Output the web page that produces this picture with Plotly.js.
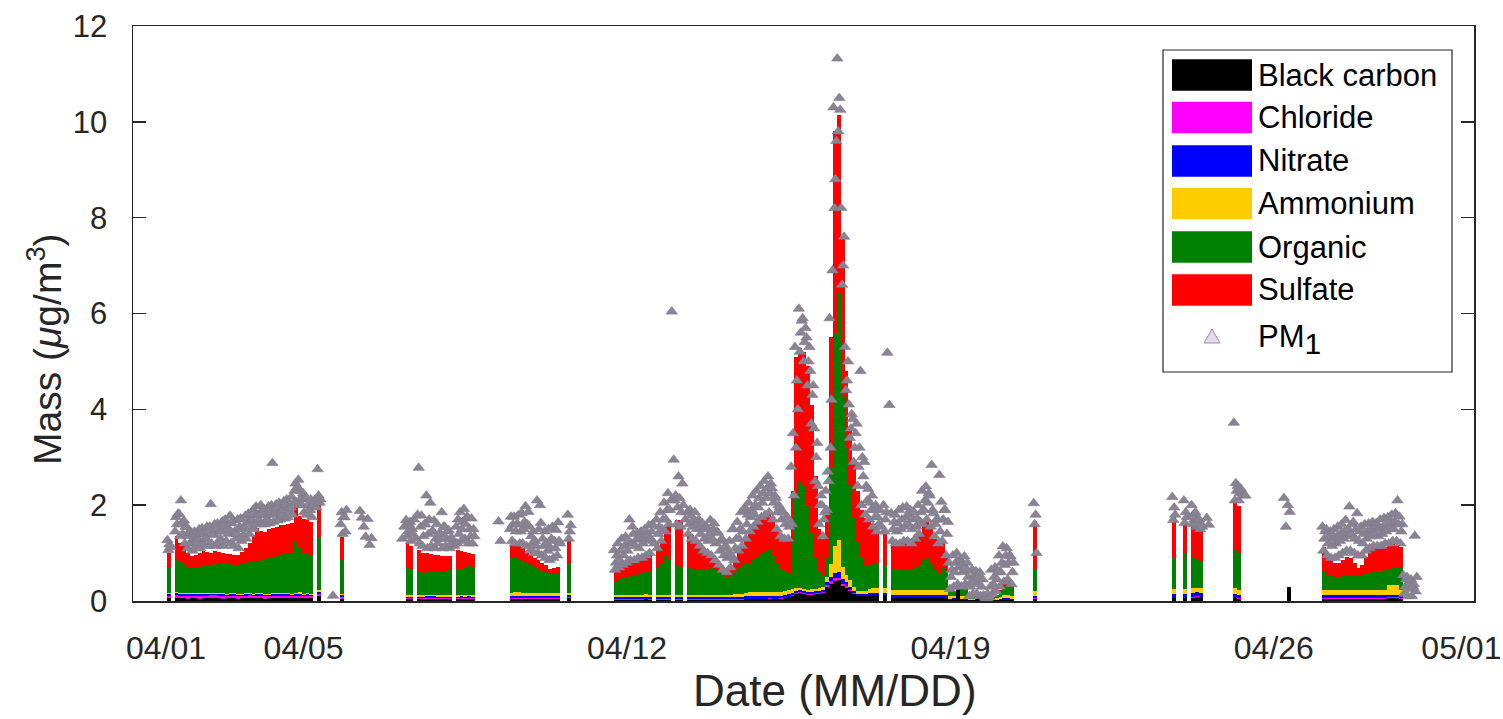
<!DOCTYPE html>
<html>
<head>
<meta charset="utf-8">
<script src="https://cdn.plot.ly/plotly-3.0.1.min.js"></script>
<style>
  html, body { margin: 0; padding: 0; background: #ffffff; }
  #chart { width: 1503px; height: 719px; }
</style>
</head>
<body>
<div id="chart"></div>
<script>
// PM1 composition, April campaign.
// Component masses are 2-hour means; PM1 (total) is read every 30 minutes.
// Sampling runs in blocks: each block starts at segStartHour (hours on the day axis)
// and holds segLength 2-hour steps.
const segStartHour = [50, 136, 172, 222, 282, 500, 572, 630, 650];
const segLength    = [41, 11, 19, 19, 104, 1, 20, 2, 25];

const blackCarbon = [
  0.06,null,0.07,0.06,0.06,0.05,0.06,0.06,0.05,0.06, 0.06,0.07,0.06,0.06,0.05,0.06,0.06,0.06,0.05,0.06,
  0.06,0.07,0.06,0.06,0.06,0.05,0.06,0.06,0.06,0.07, 0.06,0.06,0.06,0.07,0.06,0.06,0.07,0.06,null,0.10, null,
  null,null,0.05,null,null,null,null,null,null,null,null,
  null,0.04,0.04,null,0.04,0.04,0.05,0.04,0.04,0.04,0.04,0.04,0.04,null,0.04,0.05,0.04,0.04,0.04,
  null,null,null,0.04,0.04,0.04,0.04,0.05,0.04,0.04,0.04,0.04,0.04,0.04,0.04,0.04,null,null,0.06,
  0.03,0.03,0.03,0.03,0.03,0.03,0.03,0.03,0.04,0.03, null,0.03,0.03,0.03,0.03,null,0.03,0.03,null,0.03,
  0.03,0.03,0.03,0.03,0.03,0.03,0.03,0.03,0.03,0.03, 0.03,0.03,0.03,0.03,0.04,0.04,0.04,0.04,0.04,0.04,
  0.05,0.04,0.04,0.05,0.06,0.08,0.10,0.15,0.16,0.14, 0.13,0.13,0.14,0.15,0.16,0.30,0.36,0.42,0.44,0.32,
  0.28,0.20,0.14,0.10,0.10,0.10,0.12,0.12,0.12,null, 0.12,null,0.06,0.06,0.06,0.06,0.06,0.06,0.06,0.06,
  0.06,0.06,0.06,0.06,0.06,0.06,0.06,0.03,0.04,0.23, 0.03,0.03,0.02,0.02,0.05,0.01,0.01,0.01,0.02,0.02,
  0.03,0.03,0.03,0.03,
  0.05,
  0.06,null,null,0.06,null,0.07,0.09,0.08,null,null,null,null,null,null,null,null,0.06,0.05,null,null,
  null,0.30,
  0.05,0.05,0.05,0.05,0.05,0.05,0.05,0.05,0.05,0.05,0.05,0.05,0.05,0.05,0.05,0.05,0.05,0.06,0.06,0.06,0.05,null,null,null,null
];

const chloride = [
  0.05,null,0.06,0.05,0.05,0.06,0.05,0.05,0.06,0.05, 0.05,0.05,0.06,0.05,0.05,0.04,0.05,0.05,0.05,0.04,
  0.05,0.05,0.04,0.05,0.04,0.05,0.04,0.04,0.05,0.04, 0.04,0.05,0.04,0.04,0.05,0.04,0.04,0.04,null,0.05, null,
  null,null,0.03,null,null,null,null,null,null,null,null,
  null,0.02,0.02,null,0.02,0.02,0.02,0.03,0.02,0.02,0.02,0.02,0.02,null,0.02,0.02,0.02,0.02,0.02,
  null,null,null,0.02,0.02,0.02,0.02,0.02,0.02,0.02,0.02,0.02,0.02,0.02,0.02,0.02,null,null,0.02,
  0.01,0.01,0.01,0.01,0.01,0.01,0.01,0.01,0.01,0.01, null,0.01,0.01,0.01,0.01,null,0.01,0.01,null,0.01,
  0.01,0.01,0.01,0.01,0.01,0.01,0.01,0.01,0.01,0.01, 0.01,0.01,0.01,0.01,0.01,0.01,0.01,0.01,0.01,0.01,
  0.01,0.01,0.01,0.01,0.01,0.01,0.02,0.02,0.02,0.02, 0.02,0.02,0.02,0.02,0.02,0.03,0.05,0.05,0.05,0.04,
  0.03,0.03,0.02,0.01,0.01,0.01,0.01,0.01,0.01,null, 0.01,null,0.01,0.01,0.01,0.01,0.01,0.01,0.01,0.01,
  0.01,0.01,0.01,0.01,0.01,0.01,0.01,0.00,0.00,0.00, 0.00,0.00,0.00,0.00,0.00,0.00,0.00,0.00,0.00,0.00,
  0.00,0.00,0.00,0.00,
  0.01,
  0.01,null,null,0.01,null,0.01,0.01,0.01,null,null,null,null,null,null,null,null,0.01,0.01,null,null,
  null,null,
  0.02,0.02,0.02,0.02,0.02,0.02,0.02,0.02,0.02,0.02,0.02,0.02,0.02,0.02,0.02,0.02,0.02,0.02,0.02,0.02,0.02,null,null,null,null
];

const nitrate = [
  0.03,null,0.03,0.03,0.04,0.03,0.03,0.03,0.03,0.04, 0.03,0.03,0.03,0.03,0.04,0.03,0.03,0.03,0.03,0.03,
  0.04,0.03,0.03,0.03,0.04,0.03,0.03,0.04,0.03,0.03, 0.04,0.03,0.03,0.04,0.04,0.03,0.03,0.03,null,0.04, null,
  null,null,0.04,null,null,null,null,null,null,null,null,
  null,0.03,0.03,null,0.03,0.03,0.03,0.03,0.04,0.03,0.03,0.03,0.03,null,0.03,0.03,0.03,0.04,0.03,
  null,null,null,0.04,0.04,0.05,0.04,0.04,0.04,0.04,0.04,0.04,0.04,0.04,0.04,0.04,null,null,0.04,
  0.04,0.04,0.04,0.04,0.04,0.04,0.04,0.04,0.04,0.04, null,0.04,0.04,0.04,0.04,null,0.04,0.04,null,0.04,
  0.04,0.04,0.04,0.04,0.04,0.04,0.04,0.04,0.04,0.04, 0.04,0.04,0.04,0.05,0.05,0.05,0.05,0.05,0.05,0.05,
  0.05,0.05,0.05,0.05,0.05,0.05,0.05,0.04,0.04,0.04, 0.04,0.04,0.04,0.04,0.04,0.06,0.10,0.12,0.12,0.10,
  0.08,0.06,0.05,0.04,0.04,0.04,0.04,0.04,0.04,null, 0.04,null,0.05,0.05,0.05,0.05,0.05,0.05,0.05,0.05,
  0.05,0.05,0.05,0.05,0.05,0.05,0.05,0.02,0.02,0.02, 0.02,0.02,0.01,0.01,0.01,0.01,0.00,0.00,0.01,0.01,
  0.02,0.03,0.03,0.02,
  0.05,
  0.08,null,null,0.08,null,0.09,0.08,0.08,null,null,null,null,null,null,null,null,0.08,0.07,null,null,
  null,null,
  0.05,0.05,0.05,0.05,0.05,0.05,0.05,0.05,0.05,0.05,0.05,0.05,0.05,0.05,0.05,0.05,0.05,0.05,0.05,0.05,0.05,null,null,null,null
];

const ammonium = [
  0.02,null,0.02,0.02,0.02,0.02,0.02,0.02,0.02,0.02, 0.02,0.02,0.02,0.02,0.02,0.02,0.02,0.02,0.02,0.02,
  0.02,0.02,0.02,0.02,0.03,0.02,0.02,0.02,0.02,0.02, 0.02,0.03,0.02,0.02,0.03,0.02,0.02,0.02,null,0.03, null,
  null,null,0.03,null,null,null,null,null,null,null,null,
  null,0.03,0.03,null,0.03,0.03,0.03,0.03,0.03,0.03,0.03,0.03,0.04,null,0.03,0.03,0.03,0.03,0.03,
  null,null,null,0.07,0.08,0.07,0.07,0.06,0.07,0.07,0.07,0.06,0.07,0.07,0.06,0.07,null,null,0.05,
  0.05,0.05,0.05,0.05,0.05,0.05,0.05,0.05,0.05,0.05, null,0.05,0.05,0.05,0.05,null,0.05,0.05,null,0.05,
  0.05,0.05,0.05,0.05,0.05,0.05,0.05,0.05,0.05,0.05, 0.05,0.06,0.06,0.06,0.06,0.08,0.08,0.08,0.08,0.08,
  0.08,0.08,0.08,0.08,0.08,0.08,0.08,0.06,0.05,0.05, 0.05,0.06,0.06,0.07,0.08,0.12,0.27,0.55,0.66,0.26,
  0.16,0.15,0.09,0.05,0.05,0.05,0.08,0.10,0.10,null, 0.10,null,0.10,0.10,0.10,0.10,0.10,0.10,0.10,0.10,
  0.10,0.10,0.10,0.10,0.10,0.10,0.10,0.05,0.04,0.03, 0.05,0.05,0.02,0.02,0.02,0.01,0.01,0.01,0.02,0.03,
  0.04,0.07,0.07,0.05,
  0.10,
  0.10,null,null,0.10,null,0.10,0.10,0.10,null,null,null,null,null,null,null,null,0.12,0.10,null,null,
  null,null,
  0.12,0.12,0.12,0.12,0.12,0.12,0.12,0.12,0.12,0.12,0.12,0.12,0.12,0.12,0.12,0.12,0.12,0.20,0.20,0.20,0.12,null,null,null,null
];

const organic = [
  0.56,null,0.70,0.68,0.62,0.56,0.54,0.56,0.56,0.58, 0.59,0.59,0.61,0.61,0.63,0.62,0.61,0.59,0.58,0.62,
  0.63,0.64,0.66,0.68,0.70,0.70,0.74,0.76,0.79,0.81, 0.83,0.83,0.84,1.08,0.94,0.84,0.84,0.82,null,1.11, null,
  null,null,0.71,null,null,null,null,null,null,null,null,
  null,0.57,0.54,null,0.50,0.46,0.48,0.48,0.48,0.49,0.48,0.50,0.51,null,0.53,0.54,0.56,0.60,0.58,
  null,null,null,0.73,0.73,0.69,0.65,0.61,0.57,0.55,0.49,0.45,0.43,0.41,0.41,0.39,null,null,0.63,
  0.27,0.31,0.34,0.37,0.39,0.42,0.44,0.45,0.46,0.49, null,0.57,0.67,0.82,0.72,null,0.62,0.59,null,0.55,
  0.53,0.52,0.52,0.52,0.53,0.55,0.53,0.49,0.39,0.37, 0.42,0.46,0.56,0.60,0.62,0.62,0.67,0.74,0.80,0.85,
  0.87,0.77,0.62,0.46,0.40,0.36,1.05,1.93,2.21,2.15, 1.76,1.15,0.64,0.32,0.25,0.39,2.02,4.46,5.13,3.58,
  2.65,1.96,1.45,1.05,0.70,0.55,0.50,0.51,0.52,null, 0.48,null,0.43,0.43,0.42,0.43,0.44,0.43,0.48,0.53,
  0.63,0.67,0.58,0.43,0.36,0.50,0.38,0.10,0.08,0.05, 0.18,0.20,0.04,0.03,0.03,0.02,0.01,0.01,0.03,0.05,
  0.10,0.20,0.20,0.17,
  0.44,
  0.67,null,null,0.75,null,0.65,0.60,0.57,null,null,null,null,null,null,null,null,0.81,0.75,null,null,
  null,null,
  0.37,0.31,0.28,0.26,0.27,0.29,0.30,0.31,0.30,0.28,0.30,0.32,0.34,0.36,0.38,0.39,0.41,0.34,0.35,0.36,0.45,null,null,null,null
];

const sulfate = [
  0.28,null,0.48,0.37,0.35,0.28,0.23,0.24,0.28,0.29, 0.28,0.25,0.26,0.25,0.21,0.22,0.22,0.21,0.22,0.25,
  0.31,0.40,0.56,0.68,0.59,0.59,0.62,0.60,0.60,0.61, 0.59,0.61,0.63,0.81,0.66,0.73,0.70,0.67,null,0.78, null,
  null,null,0.48,null,null,null,null,null,null,null,null,
  null,0.52,0.49,null,0.44,0.42,0.40,0.38,0.36,0.35,0.34,0.31,0.29,null,0.41,0.38,0.34,0.28,0.28,
  null,null,null,0.27,0.27,0.29,0.31,0.27,0.21,0.18,0.19,0.18,0.16,0.08,0.12,0.16,null,null,0.55,
  0.22,0.22,0.23,0.28,0.28,0.29,0.31,0.32,0.35,0.38, null,0.40,0.45,0.60,0.84,null,0.94,0.97,null,0.77,
  0.72,0.65,0.50,0.41,0.34,0.27,0.14,0.10,0.10,0.08, 0.15,0.25,0.36,0.45,0.57,0.70,0.73,0.78,0.82,0.85,
  0.84,0.80,0.70,0.75,0.75,0.76,1.00,2.90,2.80,2.80, 2.90,2.70,1.70,0.90,0.75,0.90,2.70,4.20,3.75,3.30,
  1.60,1.20,1.15,1.05,1.00,0.98,0.90,0.82,0.71,null, 0.67,null,0.62,0.60,0.58,0.56,0.54,0.56,0.55,0.65,
  0.75,0.80,0.75,0.65,0.57,0.49,0.32,0.05,0.03,0.02, 0.05,0.08,0.02,0.01,0.01,0.01,0.00,0.00,0.01,0.02,
  0.04,0.08,0.11,0.08,
  1.01,
  0.84,null,null,0.63,null,0.79,0.70,0.66,null,null,null,null,null,null,null,null,0.98,1.00,null,null,
  null,null,
  0.52,0.35,0.34,0.30,0.28,0.32,0.38,0.35,0.26,0.17,0.21,0.36,0.48,0.48,0.48,0.47,0.47,0.49,0.50,0.47,0.44,null,null,null,null
];

// PM1 every 30 minutes: four readings per 2-hour step
const pm1 = [
  // 04/01 - 04/05
  1.27,1.06,1.18,1.12, null,null,null,null, 1.45,1.75,1.6,1.82, 1.82,1.35,2.1,1.6, 1.4,1.68,1.2,1.55,
  1.55,1.1,1.35,1.45, 1.2,1.42,1.05,1.3, 1.45,1.1,1.3,1.22, 1.3,1.5,1.1,1.4, 1.52,1.2,1.4,1.3,
  1.3,1.55,1.15,1.45, 1.55,2.02,1.2,1.38, 1.4,1.6,1.15,1.5, 1.62,1.2,1.45,1.3, 1.45,1.66,1.15,1.55,
  1.7,1.25,1.55,1.4, 1.5,1.78,1.2,1.62, 1.68,1.15,1.45,1.3, 1.4,1.7,1.1,1.55, 1.72,1.25,1.5,1.38,
  1.55,1.78,1.3,1.65, 1.82,1.4,1.65,1.55, 1.7,1.9,1.5,1.8, 1.97,1.6,1.8,1.7, 1.8,2.0,1.6,1.9,
  1.92,1.6,1.8,1.7, 1.7,1.97,1.62,1.85, 2.0,2.88,1.65,1.8, 1.85,2.02,1.68,1.95, 2.05,1.7,1.9,1.8,
  1.9,2.08,1.72,2.0, 2.12,1.75,1.95,1.85, 1.95,2.18,1.8,2.05, 2.3,2.45,2.05,2.38, 2.53,2.0,2.3,2.15,
  2.0,2.25,1.85,2.12, 2.15,1.8,2.0,1.9, 1.9,2.12,1.75,2.0, null,2.1,null,1.95, 2.75,2.2,2.05,2.12,
  null,null,null,null,
  // short runs after 04/05
  0.11,null,null,null, null,null,null,null, 1.6,1.85,1.4,1.75, 1.75,1.45,1.9,null, null,null,null,null,
  null,null,null,null, null,null,null,null, 1.88,null,1.74,null, 1.55,null,1.34,null, 1.71,null,1.17,null,
  1.31,null,null,null,
  // 04/07 - 04/08
  1.3,null,1.55,null, 1.69,1.35,1.45,1.6, 1.65,1.25,1.5,1.4, 1.7,null,1.3,null, 1.8,2.78,1.2,1.55,
  1.78,1.15,1.35,1.6, 1.6,2.2,1.1,1.4, 1.7,2.05,1.15,1.45, 1.45,1.68,1.1,1.3, 1.6,1.2,1.4,1.3,
  1.4,1.85,1.1,1.55, 1.55,1.15,1.3,1.45, 1.48,1.1,1.3,1.2, 1.3,null,1.15,null, 1.55,1.2,1.7,1.4,
  1.85,1.25,1.5,1.65, 1.92,1.3,1.6,1.75, 1.75,1.2,1.5,1.35, 1.72,1.2,1.5,1.35,
  // 04/09 - 04/10
  1.66,null,1.25,null, null,null,null,null, null,null,null,null, 1.5,1.76,1.25,1.6, 1.76,1.2,1.45,1.6,
  1.6,1.8,1.2,1.45, 1.83,1.2,1.5,1.65, 1.98,1.15,1.6,1.86, 1.55,1.05,1.35,1.2, 1.45,1.0,1.25,1.15,
  2.1,1.0,1.5,2.0, 1.63,0.95,1.3,1.15, 1.45,0.9,1.2,1.05, 1.5,0.85,1.1,1.3, 1.55,0.9,1.25,1.1,
  1.48,0.95,1.64,1.25, 1.2,null,null,null, null,null,null,null, 1.8,1.3,1.45,1.58,
  // 04/11 - 04/20 episode
  1.06,0.65,0.8,0.95, 1.2,0.7,0.85,1.05, 1.3,0.75,0.95,1.15, 1.34,0.8,1.05,1.2, 1.7,0.85,1.2,1.55,
  1.4,0.85,1.15,1.28, 1.42,0.9,1.1,1.3, 1.45,0.9,1.2,1.32, 1.5,0.95,1.25,1.38, 1.58,1.0,1.3,1.45,
  1.6,null,1.2,null, 1.7,1.1,1.4,1.55, 1.85,1.25,1.5,1.7, 2.05,1.45,1.7,1.9, 2.25,1.6,1.9,2.1,
  6.04,null,2.95,2.1, 2.2,1.6,1.95,2.6, 2.15,1.55,1.85,2.45, 2.0,null,1.7,null, 1.85,1.4,1.6,1.9,
  1.78,1.3,1.55,1.7, 1.85,1.25,1.5,1.65, 1.7,1.15,1.4,1.55, 1.62,1.05,1.3,1.5, 1.55,1.0,1.25,1.4,
  1.69,0.95,1.3,1.5, 1.62,0.85,1.2,1.45, 1.42,0.75,1.05,1.25, 1.3,0.65,0.95,1.1, 1.15,0.6,0.9,1.0,
  1.25,0.7,0.95,1.5, 1.5,0.85,1.1,1.3, 1.65,1.05,1.3,1.5, 1.85,1.15,1.45,1.9, 1.95,1.3,1.6,1.8,
  2.05,1.45,1.75,1.9, 2.2,1.55,1.8,2.0, 2.3,1.65,1.95,2.15, 2.4,1.75,2.05,2.25, 2.5,1.8,2.15,2.35,
  2.6,1.85,2.25,2.45, 2.35,1.7,2.05,2.2, 2.15,1.5,1.85,2.0, 1.95,1.35,1.7,1.85, 1.85,1.3,1.6,1.75,
  1.75,1.3,1.55,1.65, 2.8,1.6,3.5,2.2, 5.3,3.2,4.6,4.0, 6.1,5.2,5.6,5.85, 5.9,5.0,5.4,5.7,
  5.5,4.5,5.0,5.3, 4.8,3.7,4.3,4.5, 3.6,2.5,3.0,3.3, 2.4,1.6,2.0,2.2, 2.0,1.35,1.7,1.85,
  2.3,1.9,2.7,2.5, 5.9,3.2,4.2,6.9, 10.3,8.2,8.8,9.6, 11.32,9.8,10.5,10.25, 8.2,6.6,7.0,7.6,
  5.3,4.4,4.6,5.0, 4.1,3.4,3.6,3.9, 3.8,2.9,3.2,3.5, 3.7,2.4,2.8,3.2, 4.8,2.0,3.0,2.6,
  2.9,1.8,2.4,2.1, 2.34,1.7,2.05,1.9, 2.2,1.55,1.9,1.75, 2.0,1.45,1.75,1.6, 1.9,null,1.55,null,
  2.0,1.45,1.7,1.85, 5.18,null,4.09,null, 1.83,1.25,1.5,1.65, 1.8,1.2,1.45,1.62, 1.9,1.2,1.5,1.7,
  1.95,1.25,1.55,1.75, 1.97,1.25,1.6,1.8, 1.9,1.2,1.5,1.7, 1.85,1.3,1.55,1.72, 2.0,1.4,1.65,1.85,
  2.3,1.6,1.9,2.1, 2.39,1.7,2.05,2.25, 2.2,1.55,2.84,1.9, 1.83,1.35,1.6,1.7, 1.7,1.2,2.63,1.45,
  2.07,1.25,1.7,1.9, 1.9,0.95,1.4,1.65, 0.8,0.25,0.5,0.65, 0.95,0.3,0.6,0.8, 1.0,0.35,0.7,0.85,
  0.85,0.3,0.6,0.75, 0.93,0.35,0.65,0.8, 0.5,0.1,0.3,0.4, 0.65,0.15,0.4,0.55, 0.62,0.15,0.35,0.5,
  0.6,0.1,0.3,0.45, 0.12,0.02,0.05,0.08, 0.15,0.03,0.08,0.3, 0.65,0.15,0.35,0.5, 0.7,0.2,0.45,0.6,
  0.95,0.3,0.6,0.8, 1.14,0.4,0.75,0.95, 1.1,0.45,0.8,0.95, 0.93,0.35,0.6,0.8,
  // 04/20
  2.04,1.6,1.8,1.0,
  // 04/23 - 04/25
  2.17,1.69,1.95,1.8, null,null,null,null, null,null,null,null, 2.1,1.63,1.85,1.75, null,null,null,null,
  2.0,1.6,1.8,1.7, 1.85,1.55,1.7,1.6, 1.7,1.5,1.6,1.55, null,null,null,null, 1.73,null,1.59,null,
  null,null,null,null, null,null,null,null, null,null,null,null, null,null,null,null, null,null,null,null,
  null,null,null,null, 3.72,2.1,2.46,2.3, 2.4,2.1,2.25,2.35, 2.3,null,2.2,null, 2.2,null,null,null,
  // 04/26
  2.15,null,1.55,null, 2.0,null,1.86,null,
  // 04/27 - 04/29
  1.55,1.05,1.3,1.45, 1.5,0.95,1.2,1.35, 1.45,0.9,1.15,1.3, 1.5,0.9,1.2,1.35, 1.55,0.95,1.25,1.4,
  1.6,1.0,1.3,1.45, 1.69,1.05,1.35,1.5, 1.97,1.05,1.4,1.6, 1.65,1.0,1.3,1.5, 1.83,0.95,1.25,1.45,
  1.55,0.95,1.2,1.4, 1.6,1.05,1.3,1.45, 1.62,1.1,1.35,1.5, 1.65,1.15,1.4,1.55, 1.63,1.15,1.35,1.5,
  1.7,1.15,1.4,1.55, 1.73,1.2,1.45,1.6, 1.75,1.2,1.5,1.62, 1.8,1.25,1.5,1.65, 1.83,1.25,2.1,1.6,
  1.76,1.2,1.45,1.6, 0.54,0.15,0.3,0.45, 0.5,0.1,0.25,0.4, 0.45,0.1,0.3,0.35, 1.36,0.2,0.5,null
];

const seriesNames  = ['Black carbon', 'Chloride', 'Nitrate', 'Ammonium', 'Organic', 'Sulfate'];
const seriesColors = ['#000000', '#ff00ff', '#0000ff', '#ffcc00', '#008000', '#ff0000'];
const tickDays   = [2.02, 5, 12, 19, 26, 30.06];
const tickLabels = ['04/01', '04/05', '04/12', '04/19', '04/26', '05/01'];

// ---- time axes (days) for the 2-hour components and 30-minute PM1 ----
const tBar = [], tPm = [];
segStartHour.forEach((h0, s) => {
  for (let i = 0; i < segLength[s]; i++) {
    const h = h0 + 2 * i;
    tBar.push(h / 24);
    tPm.push((h - 0.75) / 24, (h - 0.25) / 24, (h + 0.25) / 24, (h + 0.75) / 24);
  }
});

const components = [blackCarbon, chloride, nitrate, ammonium, organic, sulfate];
components.forEach((arr, k) => {
  if (arr.length !== tBar.length) throw new Error(seriesNames[k] + ' has ' + arr.length + ' values, expected ' + tBar.length);
});
if (pm1.length !== tPm.length) throw new Error('pm1 has ' + pm1.length + ' values, expected ' + tPm.length);

const traces = components.map((arr, k) => ({
  type: 'bar',
  name: seriesNames[k],
  x: tBar,
  y: arr,
  width: 2 / 24,
  marker: { color: seriesColors[k], line: { width: 0 } },
  hoverinfo: 'skip'
}));

traces.push({
  type: 'scatter',
  mode: 'markers',
  name: 'PM1',
  x: tPm,
  y: pm1,
  marker: { symbol: 'triangle-up', size: 10, color: '#8a8394', line: { color: '#7f7889', width: 0.6 } },
  hoverinfo: 'skip'
});

// ---- legend drawn as a boxed key in the upper right ----
const FONT = 'Liberation Sans, Arial, Helvetica, sans-serif';
const legendRows = [0.91478, 0.84087, 0.76522, 0.69130, 0.61565, 0.54087];
const halfH = 0.0275;
const shapes = [{
  type: 'rect', xref: 'paper', yref: 'paper', layer: 'above',
  x0: 0.76808, x1: 0.98360, y0: 0.39826, y1: 0.95826,
  line: { color: '#262626', width: 1.2 }, fillcolor: '#ffffff'
}];
const annotations = [];
seriesNames.forEach((name, k) => {
  shapes.push({
    type: 'rect', xref: 'paper', yref: 'paper', layer: 'above',
    x0: 0.77479, x1: 0.83445, y0: legendRows[k] - halfH, y1: legendRows[k] + halfH,
    line: { width: 0 }, fillcolor: seriesColors[k]
  });
  annotations.push({
    xref: 'paper', yref: 'paper', x: 0.8375, y: legendRows[k],
    xanchor: 'left', yanchor: 'middle', showarrow: false,
    text: name, font: { family: FONT, size: 31, color: '#000000' }
  });
});
shapes.push({
  type: 'path', xref: 'paper', yref: 'paper', layer: 'above',
  xsizemode: 'pixel', ysizemode: 'pixel', xanchor: 0.80463, yanchor: 0.45913,
  path: 'M -8,-6 L 8,-6 L 0,8 Z',
  fillcolor: '#e6d8f0', line: { color: '#9a90a8', width: 1 }
});
annotations.push({
  xref: 'paper', yref: 'paper', x: 0.8375, y: 0.455,
  xanchor: 'left', yanchor: 'middle', showarrow: false,
  text: 'PM<sub><span style="font-size:30px">1</span></sub>',
  font: { family: FONT, size: 31, color: '#000000' }
});

// ---- axis titles ----
annotations.push({
  xref: 'paper', yref: 'paper', x: 0.5235, y: -0.1548,
  xanchor: 'center', yanchor: 'middle', showarrow: false,
  text: 'Date (MM/DD)', font: { family: FONT, size: 44, color: '#262626' }
});
annotations.push({
  xref: 'paper', yref: 'paper', x: -0.0656, y: 0.4383,
  xanchor: 'center', yanchor: 'middle', showarrow: false, textangle: -90,
  text: 'Mass (<i>μ</i>g/m<sup>3</sup>)', font: { family: FONT, size: 39, color: '#262626' }
});

const layout = {
  width: 1503, height: 719,
  margin: { l: 133, r: 29, t: 26, b: 118 },
  paper_bgcolor: '#ffffff', plot_bgcolor: '#ffffff',
  font: { family: FONT, color: '#262626' },
  barmode: 'stack', bargap: 0,
  showlegend: false,
  xaxis: {
    range: [1.307, 30.333],
    tickmode: 'array', tickvals: tickDays, ticktext: tickLabels,
    ticks: '', showgrid: false, zeroline: false,
    showline: true, linecolor: '#262626', linewidth: 1.5, mirror: true,
    tickfont: { family: FONT, size: 32, color: '#262626' },
    ticklabelstandoff: 18
  },
  yaxis: {
    range: [0, 12], tick0: 0, dtick: 2,
    ticks: 'inside', ticklen: 13, tickwidth: 1.5, tickcolor: '#262626',
    showgrid: false, zeroline: false,
    showline: true, linecolor: '#262626', linewidth: 1.5, mirror: 'ticks',
    tickfont: { family: FONT, size: 31, color: '#262626' },
    ticklabelstandoff: 18
  },
  shapes: shapes,
  annotations: annotations
};

Plotly.newPlot('chart', traces, layout, { displayModeBar: false, staticPlot: true });
</script>
</body>
</html>
